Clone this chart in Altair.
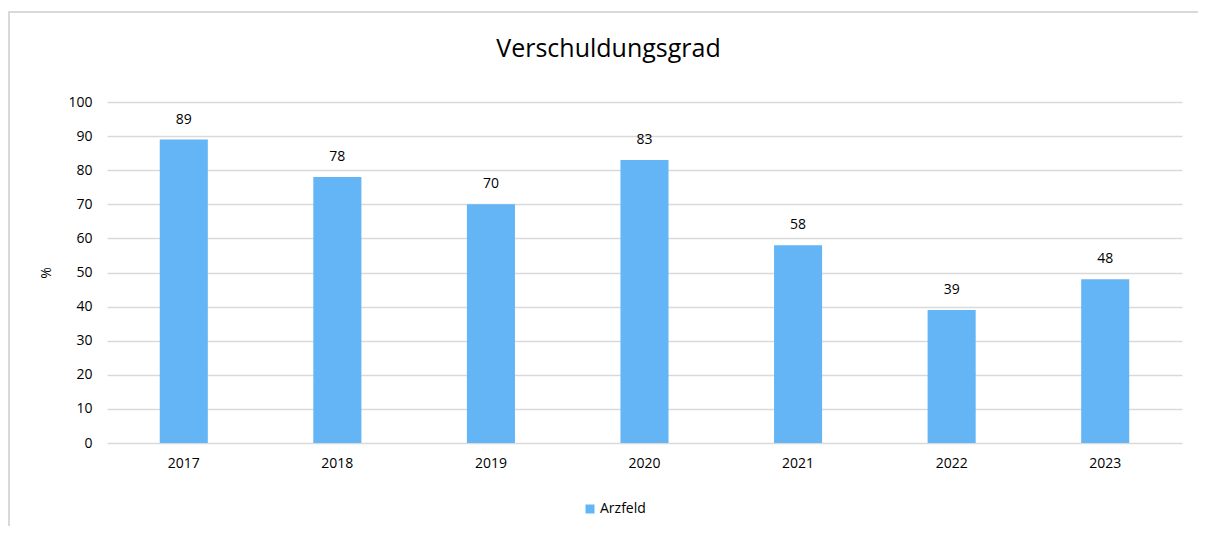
import altair as alt
import pandas as pd

years = ["2017", "2018", "2019", "2020", "2021", "2022", "2023"]
values = [89, 78, 70, 83, 58, 39, 48]
series = ["Arzfeld"] * len(years)

df = pd.DataFrame({"Jahr": years, "Wert": values, "Serie": series})

FONT = "Open Sans"
BAR = "#63B5F6"
GRID = "#D9D9D9"

x_enc = alt.X("Jahr:N", sort=years,
              scale=alt.Scale(paddingInner=0.687, paddingOuter=0.3435),
              axis=alt.Axis(title=None, labelAngle=0, ticks=False, domain=False,
                            labelPadding=13, labelFontSize=14, labelColor="#000000",
                            labelFont=FONT, grid=False))
y_enc = alt.Y("Wert:Q", scale=alt.Scale(domain=[0, 100], nice=False),
              axis=alt.Axis(title="%", values=list(range(0, 101, 10)), ticks=False,
                            domain=False, labelPadding=15, labelFontSize=14,
                            labelColor="#000000", labelFont=FONT, gridColor=GRID,
                            gridWidth=1.5, titleFont=FONT, titleFontSize=14,
                            titleFontWeight="normal", titleColor="#000000",
                            titlePadding=14, labelOverlap=False))

base = alt.Chart(df)

bars = base.mark_bar(color=BAR).encode(
    x=x_enc,
    y=y_enc,
    color=alt.Color("Serie:N", scale=alt.Scale(range=[BAR]),
                    legend=alt.Legend(title=None, orient="none", legendX=476, legendY=400,
                                      symbolType="square", symbolSize=81,
                                      symbolStrokeWidth=0, labelFont=FONT,
                                      labelFontSize=14, labelColor="#000000",
                                      labelOffset=3, padding=0)),
)

labels = base.mark_text(baseline="alphabetic", dy=-16, fontSize=14, font=FONT,
                        color="#000000").encode(
    x=x_enc,
    y=y_enc,
    text=alt.Text("Wert:Q"),
)

frame_top = base.mark_rule(color=GRID, strokeWidth=2, clip=False).encode(
    x=alt.value(-99), x2=alt.value(1110), y=alt.value(-90))
frame_left = base.mark_rule(color=GRID, strokeWidth=2, clip=False).encode(
    x=alt.value(-98), y=alt.value(-90), y2=alt.value(460))

chart = alt.layer(frame_top, frame_left, bars, labels).properties(
    width=1075, height=341,
    title=alt.TitleParams("Verschuldungsgrad", font=FONT, fontSize=25,
                          fontWeight="normal", color="#000000", anchor="middle",
                          frame="group", offset=-51, dx=-36),
    autosize=alt.AutoSizeParams(type="none"),
    padding={"left": 99, "top": 94, "right": 16, "bottom": 83},
).configure_view(stroke=None)

chart.save("out.html", embed_options={"renderer": "svg", "actions": False})
